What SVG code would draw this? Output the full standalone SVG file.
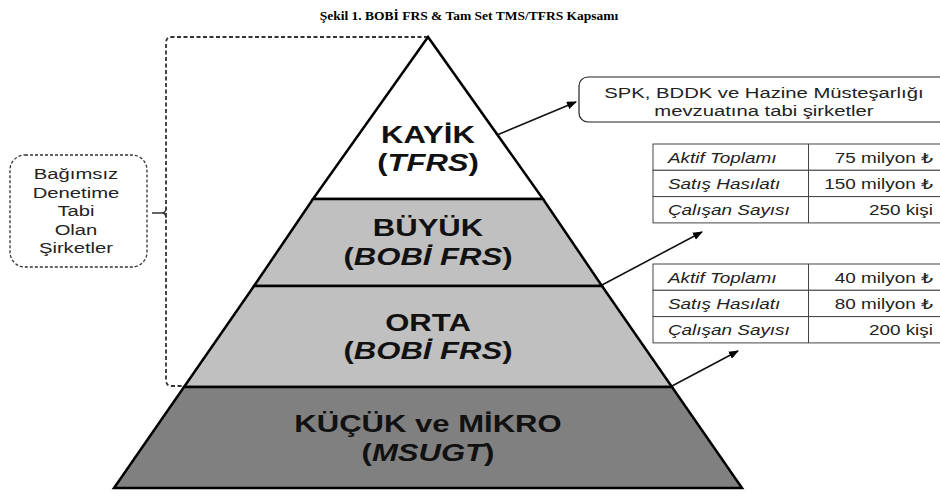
<svg xmlns="http://www.w3.org/2000/svg" width="940" height="496" viewBox="0 0 940 496">
<defs>
<marker id="ah" markerWidth="10" markerHeight="8" refX="9" refY="4" orient="auto" markerUnits="userSpaceOnUse">
<path d="M0,0 L10,4 L0,8 Z" fill="#000"/>
</marker>
<style>
.title{font-family:"Liberation Serif",serif;font-weight:bold;font-size:13.5px;fill:#000}
.lvl{font-family:"Liberation Sans",Arial,sans-serif;font-weight:bold;font-size:23px;fill:#111;text-anchor:middle}
.it{font-style:italic}
.tier{stroke:#000;stroke-width:2.5;stroke-linejoin:miter}
.box{fill:#fff;stroke:#222;stroke-width:1.2}
.dash{fill:none;stroke:#333;stroke-width:1.8;stroke-dasharray:4 2.5}
.lbl{font-family:"Liberation Sans",Arial,sans-serif;font-size:15px;fill:#222;text-anchor:middle}
.cell{fill:#fff;stroke:#444;stroke-width:1}
.tl{font-family:"Liberation Sans",Arial,sans-serif;font-style:italic;font-size:14px;fill:#222}
.tr{font-family:"Liberation Sans","DejaVu Sans",Arial,sans-serif;font-size:14px;fill:#222;text-anchor:end}
.conn{stroke:#111;stroke-width:1.6;fill:none}
</style>
</defs>
<text class="title" x="469" y="20" text-anchor="middle">Şekil 1. BOBİ FRS &amp; Tam Set TMS/TFRS Kapsamı</text>

<g id="bracket">
<path class="dash" d="M428,37 H172 Q166,37 166,43 V380 Q166,386 172,386 H184"/>
<path d="M152,213 H162 Q166,213 166,208 M162,213 Q166,213 166,218" fill="none" stroke="#333" stroke-width="1.4"/>
</g>

<g id="kayik">
<polygon class="tier" points="428,37 313,199 543,199" fill="#fff"/>
<g transform="scale(1.35,1)">
<text class="lvl" x="317.04" y="143">KAYİK</text>
<text class="lvl" x="317.04" y="171">(<tspan class="it">TFRS</tspan>)</text>
</g>
</g>
<g id="buyuk">
<polygon class="tier" points="313,199 543,199 602,286 254,286" fill="#c0c0c0"/>
<g transform="scale(1.35,1)">
<text class="lvl" x="317.04" y="236">BÜYÜK</text>
<text class="lvl" x="317.04" y="265">(<tspan class="it">BOBİ FRS</tspan>)</text>
</g>
</g>
<g id="orta">
<polygon class="tier" points="254,286 602,286 672,387 184,387" fill="#c0c0c0"/>
<g transform="scale(1.35,1)">
<text class="lvl" x="317.04" y="331">ORTA</text>
<text class="lvl" x="317.04" y="359">(<tspan class="it">BOBİ FRS</tspan>)</text>
</g>
</g>
<g id="kucuk">
<polygon class="tier" points="184,387 672,387 742,488 114,488" fill="#808080"/>
<g transform="scale(1.35,1)">
<text class="lvl" x="317.04" y="432">KÜÇÜK ve MİKRO</text>
<text class="lvl" x="317.04" y="461">(<tspan class="it">MSUGT</tspan>)</text>
</g>
</g>

<g id="bagimsiz">
<rect class="dash" x="10" y="155" width="137" height="112" rx="15" style="stroke-width:1.3;stroke-dasharray:3 2"/>
<g transform="scale(1.35,1)">
<text class="lbl" x="56.3" y="179">Bağımsız</text>
<text class="lbl" x="56.3" y="198">Denetime</text>
<text class="lbl" x="56.3" y="216">Tabi</text>
<text class="lbl" x="56.3" y="235">Olan</text>
<text class="lbl" x="56.3" y="253">Şirketler</text>
</g>
</g>

<g id="spk">
<rect class="box" x="579" y="77" width="370" height="45" rx="9"/>
<g transform="scale(1.35,1)">
<text class="lbl" x="565.9" y="98">SPK, BDDK ve Hazine Müsteşarlığı</text>
<text class="lbl" x="565.9" y="116">mevzuatına tabi şirketler</text>
</g>
</g>

<g id="tablo-buyuk">
<rect class="cell" x="653" y="144" width="296" height="26.3"/>
<rect class="cell" x="653" y="170.3" width="296" height="26.3"/>
<rect class="cell" x="653" y="196.6" width="296" height="26.3"/>
<line x1="808.5" y1="144" x2="808.5" y2="223" stroke="#444" stroke-width="1"/>
<g transform="scale(1.35,1)">
<text class="tl" x="494.8" y="163">Aktif Toplamı</text>
<text class="tl" x="494.8" y="189">Satış Hasılatı</text>
<text class="tl" x="494.8" y="215">Çalışan Sayısı</text>
<text class="tr" x="691.1" y="163">75 milyon ₺</text>
<text class="tr" x="691.1" y="189">150 milyon ₺</text>
<text class="tr" x="691.1" y="215">250 kişi</text>
</g>
</g>

<g id="tablo-orta">
<rect class="cell" x="653" y="264" width="296" height="26.3"/>
<rect class="cell" x="653" y="290.3" width="296" height="26.3"/>
<rect class="cell" x="653" y="316.6" width="296" height="26.3"/>
<line x1="808.5" y1="264" x2="808.5" y2="343" stroke="#444" stroke-width="1"/>
<g transform="scale(1.35,1)">
<text class="tl" x="494.8" y="283">Aktif Toplamı</text>
<text class="tl" x="494.8" y="309">Satış Hasılatı</text>
<text class="tl" x="494.8" y="335">Çalışan Sayısı</text>
<text class="tr" x="691.1" y="283">40 milyon ₺</text>
<text class="tr" x="691.1" y="309">80 milyon ₺</text>
<text class="tr" x="691.1" y="335">200 kişi</text>
</g>
</g>

<g id="connectors">
<line class="conn" x1="497" y1="135" x2="576" y2="102" marker-end="url(#ah)"/>
<line class="conn" x1="602" y1="285" x2="702" y2="232" marker-end="url(#ah)"/>
<line class="conn" x1="672" y1="386" x2="738" y2="351" marker-end="url(#ah)"/>
</g>
</svg>
